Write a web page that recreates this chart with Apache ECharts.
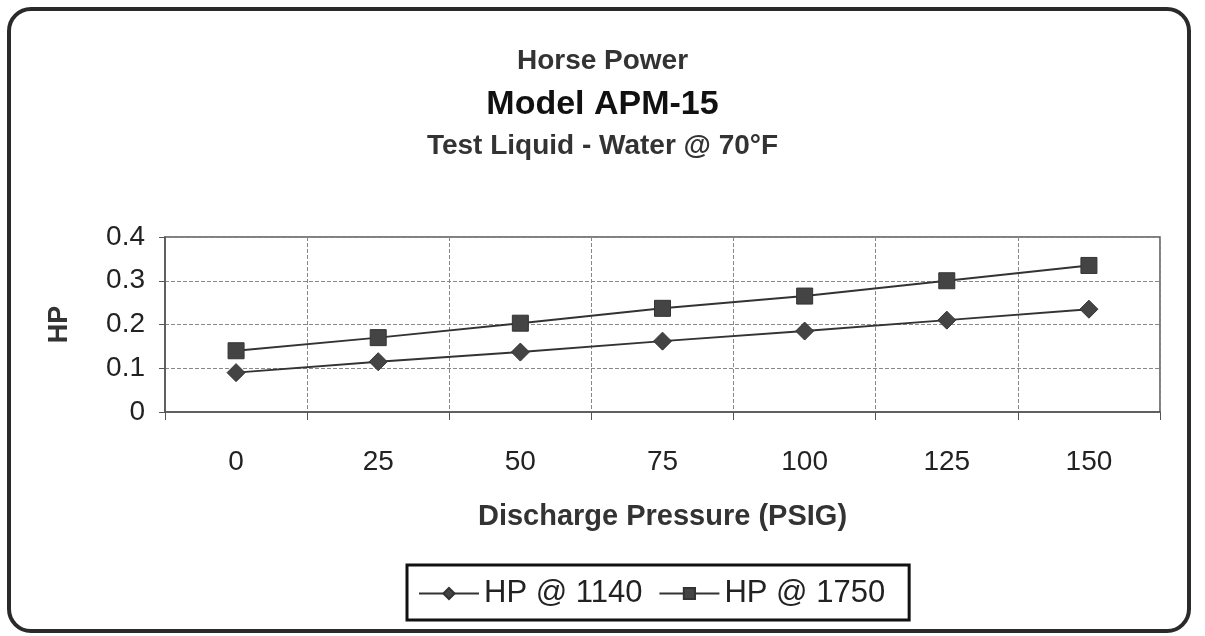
<!DOCTYPE html>
<html>
<head>
<meta charset="utf-8">
<script src="https://cdn.jsdelivr.net/npm/echarts@6/dist/echarts.min.js"></script>
<style>
  html, body { margin: 0; padding: 0; background: #fff; }
  #chart { width: 1205px; height: 636px; }
</style>
</head>
<body>
<div id="chart"></div>
<script>
// discharge pressure categories (PSIG)
const pressures = ['0', '25', '50', '75', '100', '125', '150'];
// horse power readings
const hp1140 = [0.09, 0.115, 0.137, 0.162, 0.185, 0.21, 0.235];
const hp1750 = [0.14, 0.17, 0.203, 0.237, 0.265, 0.30, 0.335];

const font = 'Liberation Sans, Arial, sans-serif';
const chart = echarts.init(document.getElementById('chart'));

const option = {
  backgroundColor: '#fff',
  animation: false,
  textStyle: { fontFamily: font },
  graphic: [{
    type: 'rect',
    shape: { x: 9, y: 9, width: 1180, height: 622, r: 22 },
    style: { fill: 'none', stroke: '#2a2a2a', lineWidth: 4 },
    z: 100
  }],
  title: [
    { text: 'Horse Power', left: 'center', top: 42,
      textStyle: { fontSize: 28, fontWeight: 'bold', color: '#333', fontFamily: font } },
    { text: 'Model APM-15', left: 'center', top: 83,
      textStyle: { fontSize: 34, fontWeight: 'bold', color: '#111', fontFamily: font } },
    { text: 'Test Liquid - Water @ 70°F', left: 'center', top: 127,
      textStyle: { fontSize: 28, fontWeight: 'bold', color: '#333', fontFamily: font } }
  ],
  grid: {
    left: 165, top: 237, width: 995, height: 175,
    show: true, borderColor: '#555', borderWidth: 1.5, backgroundColor: 'transparent'
  },
  legend: {
    bottom: 16, left: 407,
    data: ['HP @ 1140', 'HP @ 1750'],
    borderColor: '#111', borderWidth: 3,
    padding: [13, 24, 11, 11],
    itemWidth: 60, itemHeight: 14, itemGap: 16,
    textStyle: { fontSize: 31, color: '#222', fontFamily: font }
  },
  xAxis: {
    type: 'category',
    data: pressures,
    boundaryGap: true,
    name: 'Discharge Pressure (PSIG)',
    nameLocation: 'middle',
    nameGap: 90,
    nameTextStyle: { fontSize: 29, fontWeight: 'bold', color: '#333' },
    axisLine: { lineStyle: { color: '#555', width: 1.5 } },
    axisTick: { show: true, length: 8, lineStyle: { color: '#555' } },
    axisLabel: { fontSize: 28, color: '#222', margin: 36 },
    splitLine: { show: true, lineStyle: { color: '#888', width: 1, type: [4, 2] } }
  },
  yAxis: {
    type: 'value',
    min: 0, max: 0.4, interval: 0.1,
    name: 'HP',
    nameLocation: 'middle',
    nameGap: 92,
    nameTextStyle: { fontSize: 27, fontWeight: 'bold', color: '#333' },
    axisLine: { show: true, lineStyle: { color: '#555', width: 1.5 } },
    axisTick: { show: true, length: 6, lineStyle: { color: '#555' } },
    axisLabel: { fontSize: 28, color: '#222', margin: 20,
      formatter: v => (v === 0 ? '0' : v.toFixed(1)) },
    splitLine: { show: true, lineStyle: { color: '#888', width: 1, type: [4, 2] } }
  },
  series: [
    {
      name: 'HP @ 1140', type: 'line', data: hp1140,
      symbol: 'diamond', symbolSize: 18,
      lineStyle: { color: '#333', width: 2 },
      itemStyle: { color: '#444', borderColor: '#333', borderWidth: 1 }
    },
    {
      name: 'HP @ 1750', type: 'line', data: hp1750,
      symbol: 'rect', symbolSize: 16,
      lineStyle: { color: '#333', width: 2 },
      itemStyle: { color: '#444', borderColor: '#333', borderWidth: 1 }
    }
  ]
};

chart.setOption(option);
</script>
</body>
</html>
